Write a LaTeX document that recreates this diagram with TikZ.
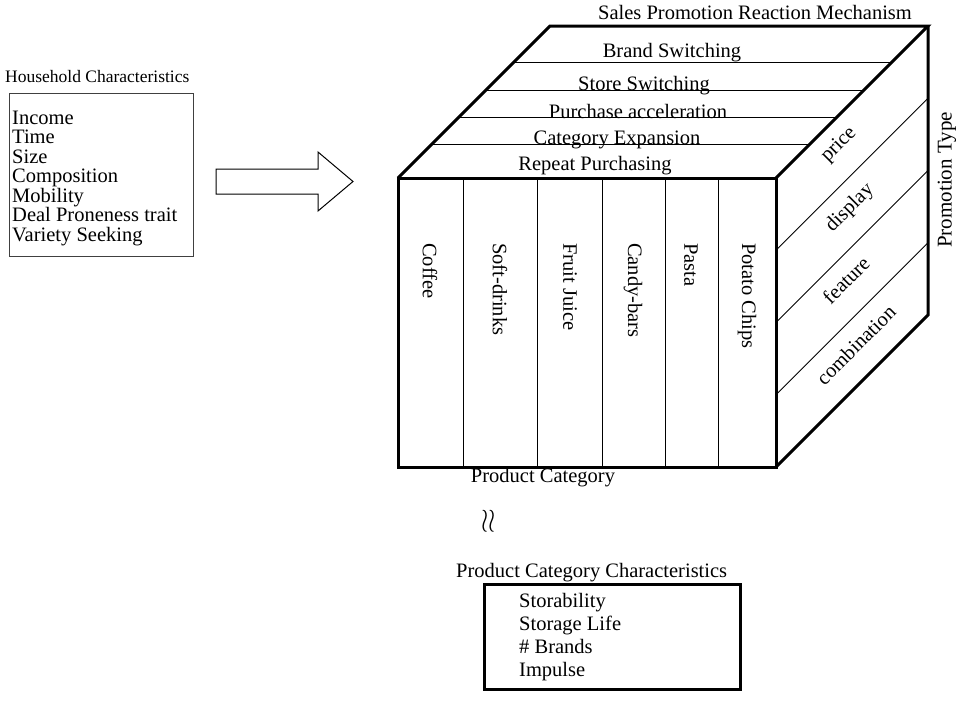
\documentclass[tikz,border=0pt]{standalone}
\usepackage{fontspec}
\setmainfont{Liberation Serif}
\usetikzlibrary{calc}
\tikzstyle{lbl} = [font=\fontsize{20.5}{20}\selectfont, inner sep=0pt]
\tikzstyle{hhlbl} = [lbl, anchor=base west]
\tikzstyle{rim} = [line width=3pt, line join=miter]
\tikzstyle{slice} = [line width=0.9pt]
\tikzstyle{hhframe} = [draw=black!75, line width=1pt, minimum width=184pt, minimum height=163pt, anchor=north west]
\tikzstyle{pcframe} = [draw, line width=2.5pt, minimum width=256pt, minimum height=105pt, anchor=north west]

\begin{document}
\begin{tikzpicture}[x=1pt, y=-1pt]
    \useasboundingbox (0,0) rectangle (961,702);

    % household box
    \node (hhtitle) [font=\fontsize{17.5}{18}\selectfont, inner sep=0pt, anchor=base west] at (5,82) {Household Characteristics};
    \node (hhbox) [hhframe] at (9,93) {};
    \foreach \t [count=\i] in {Income, Time, Size, Composition, Mobility, Deal Proneness trait, Variety Seeking}
        \node (hh\i) [hhlbl] at (12,{104.5+19.5*\i}) {\t};

    % block arrow
    \draw[line width=1pt, line join=miter] (216,169) -- (318,169) -- (318,152) -- (353,181.5) -- (318,211) -- (318,194) -- (216,194) -- cycle;

    % cube corners
    \coordinate (ftl) at (398,178);
    \coordinate (ftr) at (776,178);
    \coordinate (fbl) at (398,467);
    \coordinate (fbr) at (776,467);
    \coordinate (btl) at (550,26);
    \coordinate (btr) at (928,26);
    \coordinate (bbr) at (928,315);

    % front face: categories
    \foreach \x in {463,537,602,665,718}
        \draw[slice] (\x,178) -- (\x,467);
    \foreach \x/\t [count=\i] in {430/Coffee, 500/Soft-drinks, 570/Fruit Juice, 633/Candy-bars, 691/Pasta, 747/Potato Chips}
        \node (cat\i) [lbl, rotate=-90, anchor=west] at (\x,243) {\t};

    % top face: mechanisms
    \foreach \y in {62,90,117,144}
        \draw[slice] ({576-\y},\y) -- ({954-\y},\y);
    \node (brand) [lbl, anchor=base] at (672,57) {Brand Switching};
    \node (store) [lbl, anchor=base] at (644,90) {Store Switching};
    \node (accel) [lbl, anchor=base] at (638,118) {Purchase acceleration};
    \node (expan) [lbl, anchor=base] at (617,144) {Category Expansion};
    \node (repeat) [lbl, anchor=base] at (595,170) {Repeat Purchasing};

    % right face: promotion types
    \foreach \k in {1,2,3}
        \draw[slice] (776,{178+72.25*\k}) -- ++(152,-152);
    \node (price) [lbl, rotate=45] at (839,145) {price};
    \node (display) [lbl, rotate=45] at (850,208) {display};
    \node (feature) [lbl, rotate=45] at (846,280) {feature};
    \node (combo) [lbl, rotate=45] at (856,345) {combination};

    % cube outline
    \draw[rim] (ftl) rectangle (fbr);
    \draw[rim] (ftl) -- (btl) -- (btr) -- (ftr);
    \draw[rim] (btr) -- (bbr) -- (fbr);

    \node (mechtitle) [lbl, anchor=base] at (755,19) {Sales Promotion Reaction Mechanism};
    \node (promotype) [font=\fontsize{21}{20}\selectfont, inner sep=0pt, rotate=90] at (947,180) {Promotion Type};
    \node (pctitle) [lbl, anchor=base] at (543,482) {Product Category};

    \node (approx) [inner sep=0pt] at (489,521) {\scalebox{2.6}[3.3]{$\wr\wr$}};

    % product category characteristics
    \node (pcctitle) [lbl, anchor=base west] at (456,577) {Product Category Characteristics};
    \node (pcbox) [pcframe] at (483,583) {};
    \foreach \t [count=\i] in {Storability, Storage Life, \# Brands, Impulse}
        \node (pc\i) [lbl, anchor=base west] at (519,{584+23*\i}) {\t};
\end{tikzpicture}
\end{document}
